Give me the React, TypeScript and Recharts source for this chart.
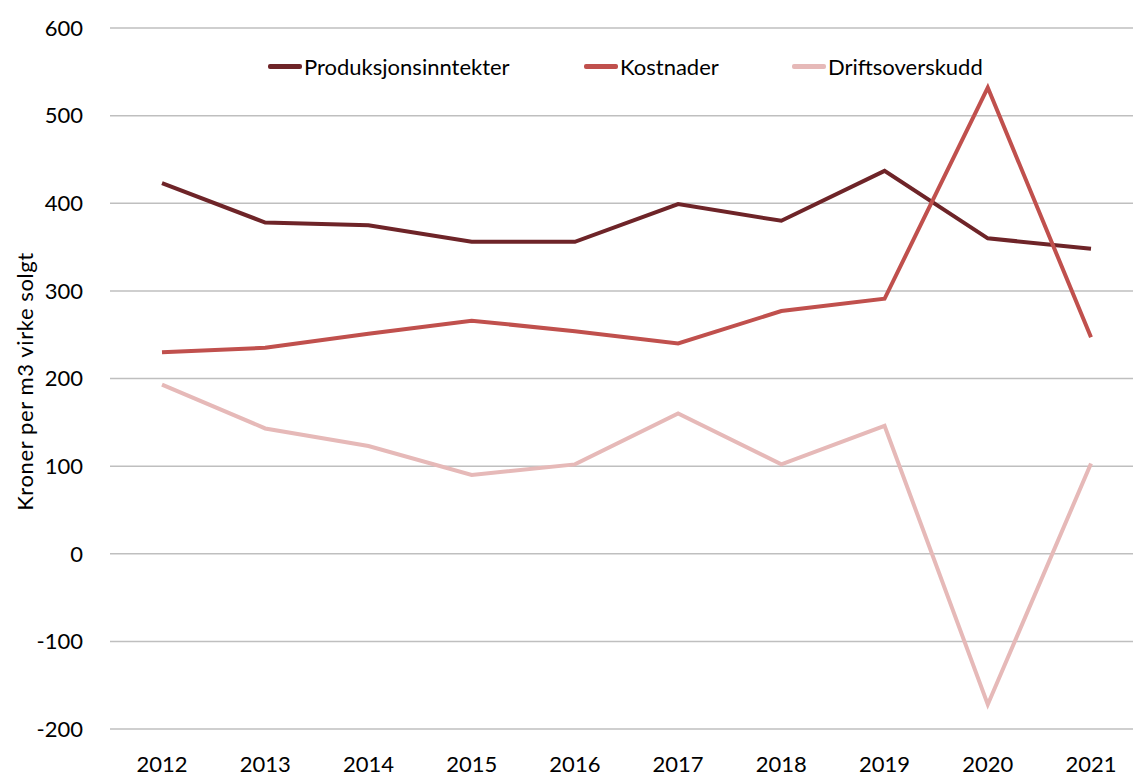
import React from "react";
import { LineChart, Line, XAxis, YAxis, CartesianGrid } from "recharts";

const years = ["2012", "2013", "2014", "2015", "2016", "2017", "2018", "2019", "2020", "2021"];
const produksjonsinntekter = [423, 378, 375, 356, 356, 399, 380, 437, 360, 348];
const kostnader = [230, 235, 251, 266, 254, 240, 277, 291, 532, 247];
const driftsoverskudd = [193, 143, 123, 90, 102, 160, 102, 146, -172, 103];
const yTicks = [-200, -100, 0, 100, 200, 300, 400, 500, 600];

const series = [
  { key: "prod", name: "Produksjonsinntekter", color: "#6E2428", legendX: 268 },
  { key: "kost", name: "Kostnader", color: "#C0504D", legendX: 584 },
  { key: "drift", name: "Driftsoverskudd", color: "#E6B9B8", legendX: 792 },
];

const data = years.map((y, i) => ({
  year: y,
  prod: produksjonsinntekter[i],
  kost: kostnader[i],
  drift: driftsoverskudd[i],
}));

const FONT = "Lato, 'Open Sans', sans-serif";

function YTitle(props: any) {
  const vb = props.viewBox || {};
  const cy = vb.y + vb.height / 2 + 3;
  const cx = 24;
  return (
    <text
      x={cx}
      y={cy}
      transform={`rotate(-90, ${cx}, ${cy})`}
      textAnchor="middle"
      dominantBaseline="central"
      fill="#000"
      style={{ fontFamily: FONT, fontSize: 22, letterSpacing: 0.6 }}
    >
      Kroner per m3 virke solgt
    </text>
  );
}

export default function App() {
  return (
    <div style={{ position: "absolute", left: 0, top: 0, width: 1133, height: 776, overflow: "hidden", background: "#fff" }}>
      <LineChart width={1143} height={776} data={data} margin={{ top: 28, right: 0, bottom: 0, left: 0 }}>
        <CartesianGrid vertical={false} stroke="#BFBFBF" strokeWidth={1.5} />
        <XAxis
          dataKey="year"
          axisLine={false}
          tickLine={false}
          tickSize={0}
          tickMargin={27}
          height={47}
          interval={0}
          padding={{ left: 52, right: 52 }}
          tick={{ fill: "#000", fontSize: 22, fontFamily: FONT }}
        />
        <YAxis
          domain={[-200, 600]}
          ticks={yTicks}
          interval={0}
          width={110}
          axisLine={false}
          tickLine={false}
          tickSize={0}
          tickMargin={27}
          tick={{ fill: "#000", fontSize: 22, fontFamily: FONT }}
          label={<YTitle />}
        />
        {series.map((s) => (
          <Line
            key={s.key}
            dataKey={s.key}
            name={s.name}
            stroke={s.color}
            strokeWidth={4}
            dot={false}
            activeDot={false}
            type="linear"
            isAnimationActive={false}
          />
        ))}
      </LineChart>
      {series.map((s) => (
        <div
          key={s.key}
          style={{
            position: "absolute",
            left: s.legendX,
            top: 53,
            display: "flex",
            alignItems: "center",
            fontFamily: FONT,
            fontSize: 22,
            color: "#000",
          }}
        >
          <span style={{ display: "inline-block", width: 34, height: 5, background: s.color, borderRadius: 2, marginRight: 2 }} />
          <span>{s.name}</span>
        </div>
      ))}
    </div>
  );
}
